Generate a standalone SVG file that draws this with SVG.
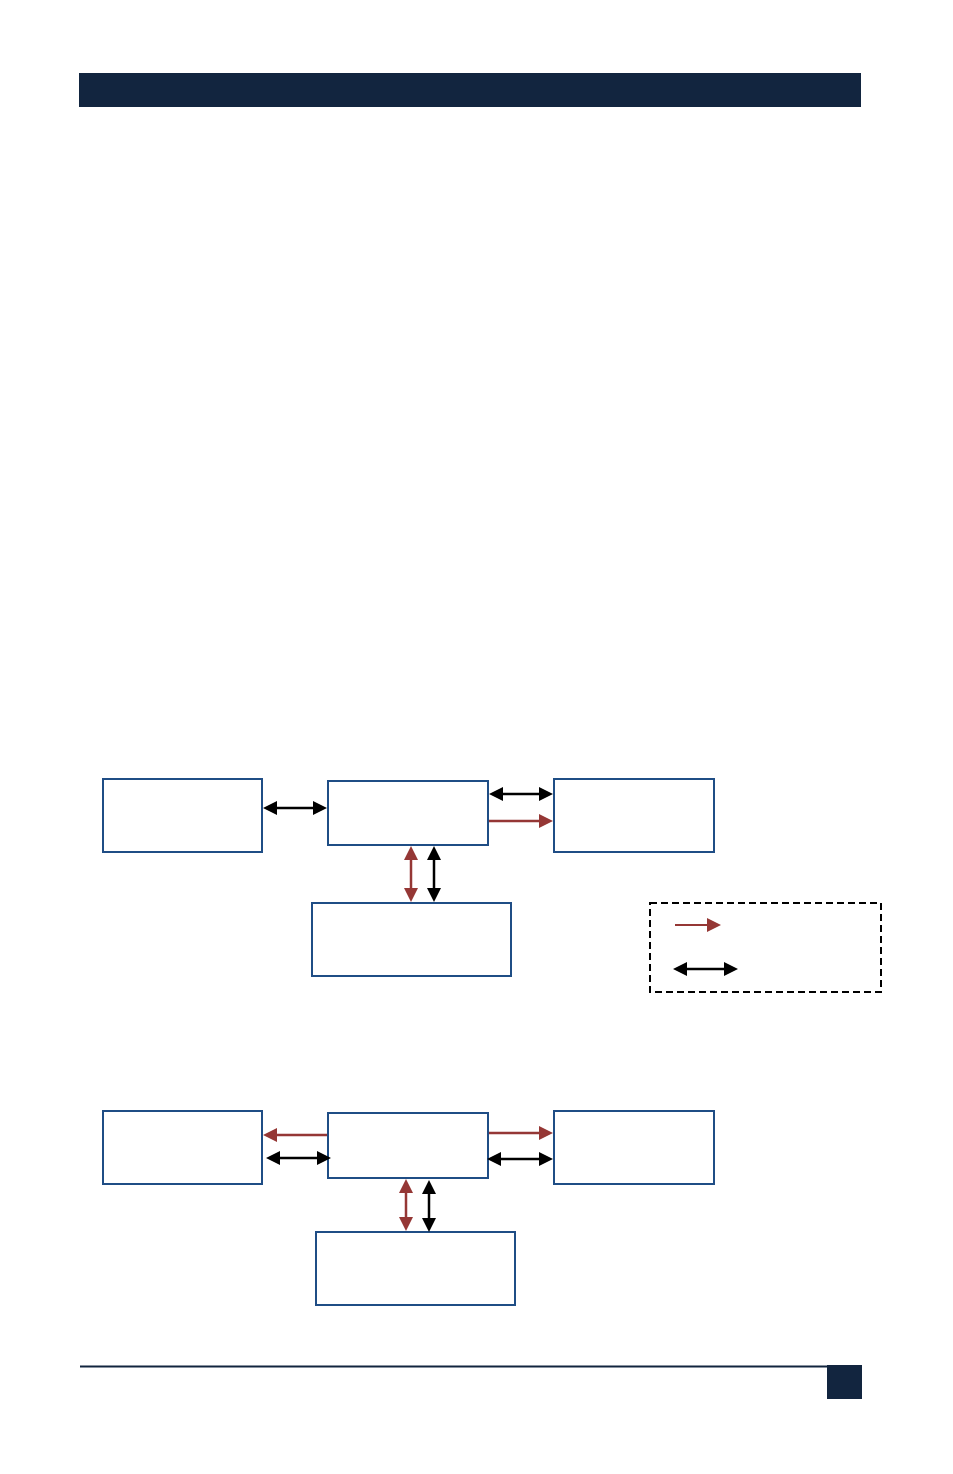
<svg xmlns="http://www.w3.org/2000/svg" width="953" height="1474" viewBox="0 0 953 1474">
<style>
.node{fill:#ffffff;stroke:#1f4d85;stroke-width:2}
.blk{stroke:#000000;stroke-width:2.5;fill:none}
.red{stroke:#953735;stroke-width:2.5;fill:none}
</style>
<defs>
<marker id="hb" markerUnits="userSpaceOnUse" markerWidth="16" markerHeight="16" refX="0" refY="0" viewBox="0 -8 16 16" orient="auto-start-reverse" overflow="visible"><path d="M0,-7 L14,0 L0,7 Z" fill="#000000"/></marker>
<marker id="hr" markerUnits="userSpaceOnUse" markerWidth="16" markerHeight="16" refX="0" refY="0" viewBox="0 -8 16 16" orient="auto-start-reverse" overflow="visible"><path d="M0,-7 L14,0 L0,7 Z" fill="#953735"/></marker>
</defs>
<rect x="79" y="73" width="782" height="34" fill="#12253f"/>
<line x1="80" y1="1366.5" x2="830" y2="1366.5" stroke="#12253f" stroke-width="2"/>
<rect x="827" y="1365" width="35" height="34" fill="#12253f"/>
<g id="n1a"><rect class="node" x="103" y="779" width="159" height="73"/></g>
<g id="n1b"><rect class="node" x="328" y="781" width="160" height="64"/></g>
<g id="n1c"><rect class="node" x="554" y="779" width="160" height="73"/></g>
<g id="n1d"><rect class="node" x="312" y="903" width="199" height="73"/></g>
<g id="legend"><rect x="650" y="903" width="231" height="89" fill="none" stroke="#000000" stroke-width="2" stroke-dasharray="7,4"/>
<line class="red" x1="675" y1="925" x2="707" y2="925" marker-end="url(#hr)" style="stroke-width:2"/>
<line class="blk" x1="687" y1="969" x2="724" y2="969" marker-start="url(#hb)" marker-end="url(#hb)"/></g>
<g id="n2a"><rect class="node" x="103" y="1111" width="159" height="73"/></g>
<g id="n2b"><rect class="node" x="328" y="1113" width="160" height="65"/></g>
<g id="n2c"><rect class="node" x="554" y="1111" width="160" height="73"/></g>
<g id="n2d"><rect class="node" x="316" y="1232" width="199" height="73"/></g>
<g id="connectors">
<line class="blk" x1="277" y1="808" x2="313" y2="808" marker-start="url(#hb)" marker-end="url(#hb)"/>
<line class="blk" x1="503" y1="794" x2="539" y2="794" marker-start="url(#hb)" marker-end="url(#hb)"/>
<line class="red" x1="489" y1="821" x2="539" y2="821" marker-end="url(#hr)"/>
<line class="red" x1="411" y1="860" x2="411" y2="888" marker-start="url(#hr)" marker-end="url(#hr)"/>
<line class="blk" x1="434" y1="860" x2="434" y2="888" marker-start="url(#hb)" marker-end="url(#hb)"/>
<line class="red" x1="327" y1="1135" x2="277" y2="1135" marker-end="url(#hr)"/>
<line class="blk" x1="280" y1="1158" x2="317" y2="1158" marker-start="url(#hb)" marker-end="url(#hb)"/>
<line class="red" x1="489" y1="1133" x2="539" y2="1133" marker-end="url(#hr)"/>
<line class="blk" x1="501" y1="1159" x2="539" y2="1159" marker-start="url(#hb)" marker-end="url(#hb)"/>
<line class="red" x1="406" y1="1193" x2="406" y2="1217" marker-start="url(#hr)" marker-end="url(#hr)"/>
<line class="blk" x1="429" y1="1194" x2="429" y2="1218" marker-start="url(#hb)" marker-end="url(#hb)"/>
</g>
</svg>
